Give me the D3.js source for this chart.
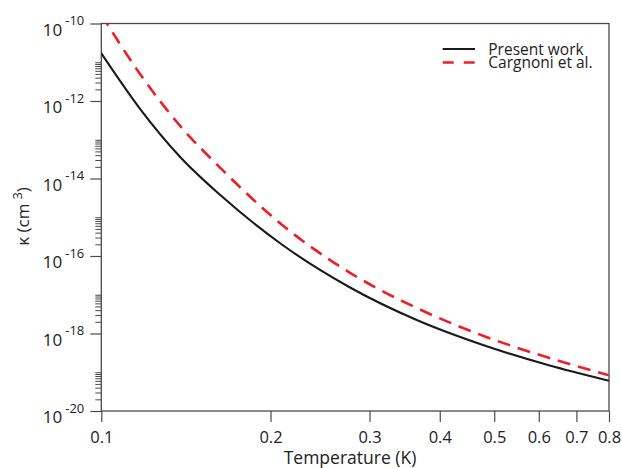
<!DOCTYPE html>
<html>
<head>
<meta charset="utf-8">
<script src="https://cdn.jsdelivr.net/npm/d3@7"></script>
<style>
  html, body { margin: 0; padding: 0; background: #fff; }
  svg { display: block; font-family: "Open Sans", "Noto Sans", sans-serif; }
</style>
</head>
<body>
<svg id="chart" width="622" height="468"></svg>
<script>
// ---- data ----
const temperatureTicks = [0.1, 0.2, 0.3, 0.4, 0.5, 0.6, 0.7, 0.8];
const majorExponents = [-10, -12, -14, -16, -18, -20];
const minorDecades = [-20, -18, -16, -14, -12];
const minorMultipliers = [2, 3, 4, 5, 6, 7, 8, 9, 10];

const presentT = [0.1, 0.117, 0.138, 0.163, 0.208, 0.277, 0.364, 0.4775, 0.623, 0.8];
const presentK = [1.70e-11, 6.49e-13, 3.66e-14, 3.68e-15, 2.13e-16, 1.54e-17, 2.23e-18, 5.05e-19, 1.54e-19, 6.05e-20];

const cargnoniT = [0.1, 0.117, 0.138, 0.163, 0.208, 0.277, 0.364, 0.4775, 0.623, 0.8];
const cargnoniK = [1.70e-10, 5.15e-12, 2.31e-13, 1.85e-14, 7.02e-16, 3.68e-17, 4.55e-18, 8.77e-19, 2.39e-19, 8.34e-20];

const seriesNames = ["Present work", "Cargnoni et al."];
const seriesColors = ["#1a1a1a", "#ec1f26"];

// ---- layout ----
const svg = d3.select("#chart");
const pLeft = 101.3, pRight = 609, pTop = 23.5, pBottom = 411;
const axisColor = "#4a4a4a";
const textColor = "#222";

const x = d3.scaleLog().domain([0.1, 0.8]).range([pLeft, pRight]);
const y = d3.scaleLog().domain([1e-20, 1e-10]).range([pBottom, pTop]);

// clip
svg.append("defs").append("clipPath").attr("id", "plotclip")
  .append("rect").attr("x", pLeft).attr("y", pTop).attr("width", pRight - pLeft).attr("height", pBottom - pTop);

// x axis
const xAxis = svg.append("g").attr("transform", `translate(0,${pBottom})`)
  .call(d3.axisBottom(x).tickValues(temperatureTicks).tickSize(11).tickSizeOuter(0)
    .tickFormat(d3.format(".1f")));
xAxis.select(".domain").remove();
xAxis.selectAll(".tick line").attr("stroke", axisColor).attr("stroke-width", 1.2);
xAxis.selectAll(".tick text").attr("font-size", 16.5).attr("fill", textColor)
  .attr("font-family", "Open Sans").attr("dy", 0).attr("y", 31.5);

// y axis major ticks
const yMajor = svg.append("g").attr("transform", `translate(${pLeft},0)`)
  .call(d3.axisLeft(y).tickValues(majorExponents.map(e => Math.pow(10, e)))
    .tickSize(11).tickSizeOuter(0).tickFormat(""));
yMajor.select(".domain").remove();
yMajor.selectAll(".tick line").attr("stroke", axisColor).attr("stroke-width", 1.2);
yMajor.selectAll(".tick").each(function(d, i) {
  const t = d3.select(this).append("text")
    .attr("x", -58.5).attr("y", 11.5).attr("text-anchor", "start")
    .attr("fill", textColor).attr("font-size", 17).attr("font-family", "Open Sans");
  t.append("tspan").text("10");
  t.append("tspan").attr("dx", 3).attr("dy", -10.5).attr("font-size", 13)
    .text("-" + Math.abs(Math.round(Math.log10(d))));
});

// y axis minor ticks
const minorVals = [];
minorDecades.forEach(e => minorMultipliers.forEach(m => minorVals.push(m * Math.pow(10, e))));
const yMinor = svg.append("g").attr("transform", `translate(${pLeft},0)`)
  .call(d3.axisLeft(y).tickValues(minorVals).tickSize(6).tickSizeOuter(0).tickFormat(""));
yMinor.select(".domain").remove();
yMinor.selectAll(".tick line").attr("stroke", axisColor).attr("stroke-width", 1);

// frame
svg.append("rect").attr("x", pLeft).attr("y", pTop).attr("width", pRight - pLeft).attr("height", pBottom - pTop)
  .attr("fill", "none").attr("stroke", axisColor).attr("stroke-width", 1.3);

// curves
const line = d3.line().x(d => x(d[0])).y(d => y(d[1])).curve(d3.curveMonotoneX);
const gCurves = svg.append("g").attr("clip-path", "url(#plotclip)");
gCurves.append("path").datum(presentT.map((t, i) => [t, presentK[i]]))
  .attr("d", line).attr("fill", "none").attr("stroke", seriesColors[0]).attr("stroke-width", 2.1);
gCurves.append("path").datum(cargnoniT.map((t, i) => [t, cargnoniK[i]]))
  .attr("d", line).attr("fill", "none").attr("stroke", seriesColors[1]).attr("stroke-width", 2.6)
  .attr("stroke-dasharray", "13,8");

// legend
const legY = [49, 62.5];
seriesNames.forEach((name, i) => {
  svg.append("line").attr("x1", 442.7).attr("x2", 475).attr("y1", legY[i]).attr("y2", legY[i])
    .attr("stroke", seriesColors[i]).attr("stroke-width", i ? 2.6 : 2.1)
    .attr("stroke-dasharray", i ? "11,10" : null);
  svg.append("text").attr("x", 488.3).attr("y", legY[i] + 5.5).attr("font-size", 15.5)
    .attr("fill", textColor).text(name);
});

// axis titles
svg.append("text").attr("x", 350).attr("y", 464).attr("text-anchor", "middle")
  .attr("font-size", 17.5).attr("fill", textColor).text("Temperature (K)");

const yt = svg.append("text").attr("transform", "translate(29,216.5) rotate(-90)")
  .attr("text-anchor", "middle").attr("font-size", 17).attr("fill", textColor);
yt.append("tspan").text("κ (cm");
yt.append("tspan").attr("dx", 4).attr("dy", -7).attr("font-size", 13).text("3");
yt.append("tspan").attr("dy", 7).text(")");
</script>
</body>
</html>
